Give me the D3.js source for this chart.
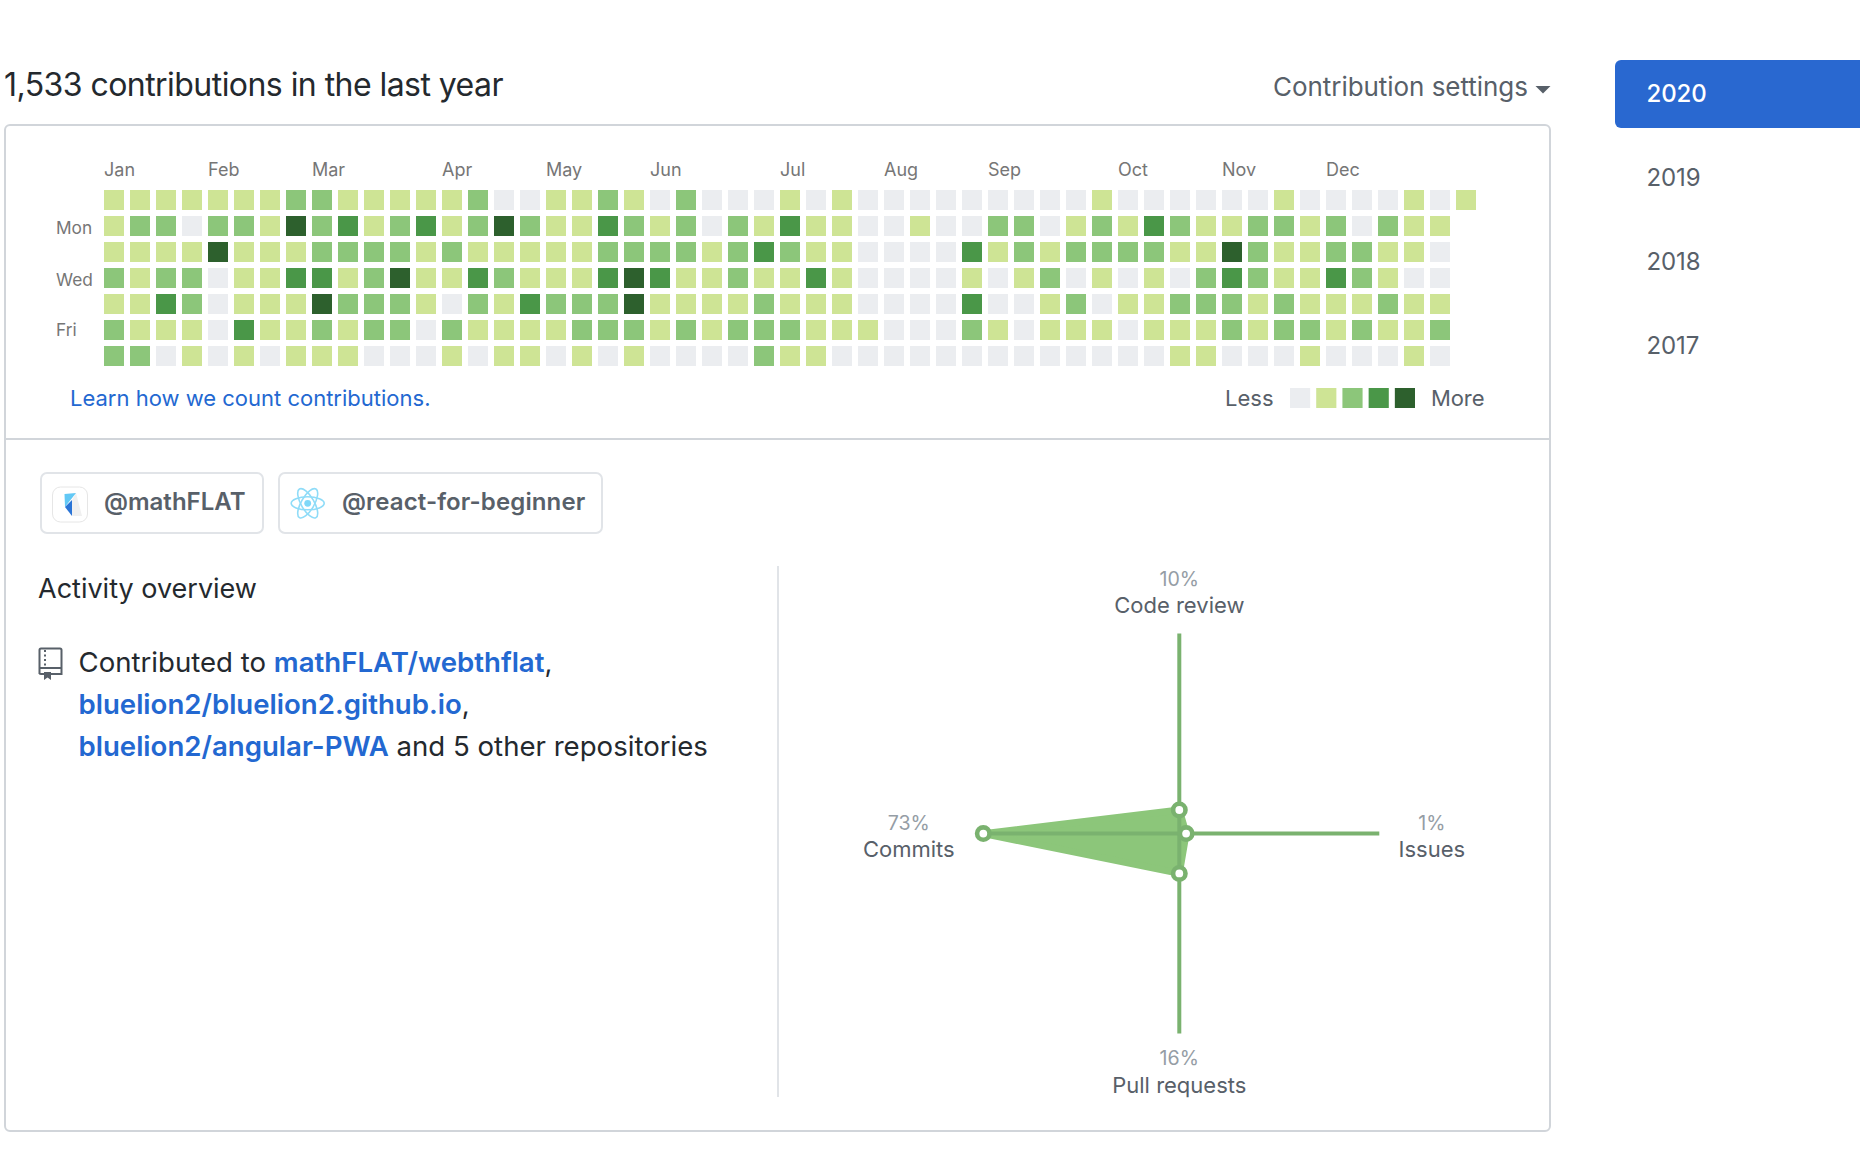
<!DOCTYPE html>
<html>
<head>
<meta charset="utf-8">
<script src="https://d3js.org/d3.v7.min.js"></script>
<style>
  html, body { margin: 0; padding: 0; background: #fff; }
  svg { display: block; }
  text { font-family: Inter, "Noto Sans", sans-serif; }
  .domain { display: none; }
</style>
</head>
<body>
<div id="chart"></div>
<script>
// data
var months = ["Jan", "Feb", "Mar", "Apr", "May", "Jun", "Jul", "Aug", "Sep", "Oct", "Nov", "Dec"];
var monthWeeks = [0, 4, 8, 13, 17, 21, 26, 30, 34, 39, 43, 47];
var dayNames = ["Mon", "Wed", "Fri"];
var dayRows = [1, 3, 5];

// contribution level (0-4) per week, one list for each weekday
var sunLevels = [1,1,1,1,1,1,1,2,2,1,1,1,1,1,2,0,0,1,1,2,1,0,2,0,0,0,1,0,1,0,0,0,0,0,0,0,0,0,1,0,0,0,0,0,0,1,0,0,0,0,1,0,1];
var monLevels = [1,2,2,0,2,2,1,4,2,3,1,2,3,1,2,4,2,1,1,3,2,1,2,0,2,1,3,1,1,0,0,1,0,0,2,2,0,1,2,1,3,2,1,1,2,2,1,2,0,2,1,1];
var tueLevels = [1,1,1,1,4,1,1,1,2,2,2,2,1,2,1,1,1,1,1,2,2,2,2,1,2,3,2,1,1,0,0,0,0,3,1,2,1,2,2,2,2,1,1,4,2,1,1,2,2,1,1,0];
var wedLevels = [2,1,2,2,0,1,1,3,3,1,2,4,1,1,3,2,1,1,1,3,4,3,1,1,2,1,1,3,1,0,0,0,0,1,0,1,2,0,1,0,1,0,2,3,2,1,1,3,2,1,0,0];
var thuLevels = [1,1,3,2,0,1,1,1,4,2,2,2,1,0,2,1,3,2,2,2,4,1,1,1,1,2,1,1,1,0,0,0,0,3,0,0,1,2,0,1,1,2,2,2,1,2,1,1,1,2,1,1];
var friLevels = [2,1,1,1,0,3,1,1,2,1,2,2,0,2,1,1,1,1,2,2,2,1,2,1,2,2,2,1,1,1,0,0,0,2,1,0,1,1,1,0,1,1,1,2,1,2,2,1,2,1,1,2];
var satLevels = [2,2,0,1,0,1,0,1,1,1,0,0,0,1,0,1,1,0,1,0,1,0,0,0,0,2,1,1,0,0,0,0,0,0,0,0,0,0,0,0,0,1,1,0,0,0,1,0,0,0,1,0];
var weekdayLevels = [sunLevels, monLevels, tueLevels, wedLevels, thuLevels, friLevels, satLevels];

var levels = [0, 1, 2, 3, 4];
var levelColors = ["#ebedf0", "#cee495", "#8cc67a", "#4a9748", "#2d602d"];

var years = ["2020", "2019", "2018", "2017"];

var radarLabels = ["Code review", "Issues", "Pull requests", "Commits"];
var radarPercents = [10, 1, 16, 73];
// how far each point sits along its spoke, in % of the spoke
var radarReach = [11.8, 3.4, 19.9, 98];

var svg = d3.select("#chart")
    .append("svg")
    .attr("width", 1860)
    .attr("height", 1174);

var linkBlue = "#2368d1", gray = "#586069", dark = "#24292e", border = "#d1d5da", light = "#e1e4e8";

// header
svg.append("text").attr("x", 4).attr("y", 96)
    .attr("font-size", 32).attr("letter-spacing", -0.55).attr("fill", dark)
    .text("1,533 contributions in the last year");
svg.append("text").attr("x", 1273).attr("y", 96)
    .attr("font-size", 26).attr("letter-spacing", -0.05).attr("fill", gray)
    .text("Contribution settings");
svg.append("path").attr("d", "M1535.5,86 h15 l-7.5,7.5 z").attr("fill", gray);

// card
svg.append("rect").attr("x", 5).attr("y", 125).attr("width", 1545).attr("height", 1006)
    .attr("rx", 5).attr("fill", "#fff").attr("stroke", border).attr("stroke-width", 2);
svg.append("line").attr("x1", 5).attr("x2", 1550).attr("y1", 439).attr("y2", 439)
    .attr("stroke", border).attr("stroke-width", 2);
svg.append("line").attr("x1", 778).attr("x2", 778).attr("y1", 566).attr("y2", 1097)
    .attr("stroke", light).attr("stroke-width", 2);

// year tabs
svg.append("path")
    .attr("d", "M1860,60 H1621 a6,6 0 0 0 -6,6 V122 a6,6 0 0 0 6,6 H1860 Z")
    .attr("fill", "#2968d0");
var yearY = d3.scalePoint().domain(years).range([102, 354]);
svg.append("g").selectAll("text")
    .data(years)
    .enter()
    .append("text")
    .attr("x", 1646.5)
    .attr("y", function (d) { return yearY(d); })
    .attr("font-size", 24)
    .attr("letter-spacing", -0.1)
    .attr("font-weight", function (d, i) { return i == 0 ? 500 : 400; })
    .attr("fill", function (d, i) { return i == 0 ? "#fff" : gray; })
    .text(function (d) { return d; });

// calendar
var x = d3.scaleBand().domain(d3.range(53)).range([104, 1476]).paddingInner(6 / 26);
var y = d3.scaleBand().domain(d3.range(7)).range([190, 366]).paddingInner(6 / 26);
var color = d3.scaleOrdinal().domain(levels).range(levelColors);

svg.append("g")
    .selectAll("g")
    .data(weekdayLevels)
    .enter()
    .append("g")
    .attr("transform", function (d, i) { return "translate(0," + y(i) + ")"; })
    .selectAll("rect")
    .data(function (d) { return d; })
    .enter()
    .append("rect")
    .attr("x", function (d, i) { return x(i); })
    .attr("width", x.bandwidth())
    .attr("height", y.bandwidth())
    .attr("fill", function (d) { return color(d); });

var monthAxis = d3.axisTop(x)
    .tickValues(monthWeeks)
    .tickFormat(function (d, i) { return months[i]; })
    .tickSize(0);
svg.append("g")
    .attr("transform", "translate(0,176)")
    .call(monthAxis)
    .selectAll("text")
    .attr("x", -x.bandwidth() / 2).attr("y", 0).attr("dy", 0)
    .attr("text-anchor", "start")
    .attr("font-family", "Inter")
    .attr("font-size", 18)
    .attr("fill", "#767676");

var dayAxis = d3.axisLeft(y)
    .tickValues(dayRows)
    .tickFormat(function (d, i) { return dayNames[i]; })
    .tickSize(0);
svg.append("g")
    .attr("transform", "translate(56,0)")
    .call(dayAxis)
    .selectAll("text")
    .attr("x", 0)
    .attr("y", function (d) { return d == 5 ? 6 : 8; }) // Fri sits a little higher in the original
    .attr("dy", 0)
    .attr("text-anchor", "start")
    .attr("font-family", "Inter")
    .attr("font-size", 17.3)
    .attr("fill", "#767676");

// learn link and legend
svg.append("text").attr("x", 70).attr("y", 406)
    .attr("font-size", 22).attr("fill", linkBlue)
    .text("Learn how we count contributions.");
svg.append("text").attr("x", 1225).attr("y", 406)
    .attr("font-size", 22).attr("fill", gray).text("Less");
svg.append("text").attr("x", 1431).attr("y", 406)
    .attr("font-size", 22).attr("letter-spacing", -0.1).attr("fill", gray).text("More");

var legendX = d3.scaleBand().domain(levels).range([1290, 1415]).paddingInner(6 / 26);
svg.append("g").selectAll("rect")
    .data(levels)
    .enter()
    .append("rect")
    .attr("x", function (d) { return legendX(d); })
    .attr("y", 388)
    .attr("width", legendX.bandwidth())
    .attr("height", 20)
    .attr("fill", function (d) { return color(d); });

// organisation chips
svg.append("rect").attr("x", 41).attr("y", 473).attr("width", 222).attr("height", 60)
    .attr("rx", 6).attr("fill", "#fff").attr("stroke", light).attr("stroke-width", 2);
svg.append("rect").attr("x", 279).attr("y", 473).attr("width", 323).attr("height", 60)
    .attr("rx", 6).attr("fill", "#fff").attr("stroke", light).attr("stroke-width", 2);
svg.append("text").attr("x", 104).attr("y", 510)
    .attr("font-size", 24).attr("font-weight", 600).attr("fill", gray).text("@mathFLAT");
svg.append("text").attr("x", 342).attr("y", 510)
    .attr("font-size", 24).attr("font-weight", 600).attr("letter-spacing", 0.12).attr("fill", gray).text("@react-for-beginner");

// mathFLAT logo
svg.append("rect").attr("x", 52.5).attr("y", 487).attr("width", 35).attr("height", 35)
    .attr("rx", 8).attr("fill", "#fff").attr("stroke", "#e6e6e6").attr("stroke-width", 1);
svg.append("path").attr("d", "M76,493 L82,516 L72,516 L72,500 Z").attr("fill", "#f0f0f0");
svg.append("path").attr("d", "M64.5,494 L76,493 L65,507 Z").attr("fill", "#62c8f5");
svg.append("path").attr("d", "M65,507 L72,500 L72,516 Z").attr("fill", "#2a74d6");

// react logo
var reactLogo = svg.append("g").attr("transform", "translate(307.7,503.3)");
[0, 60, 120].forEach(function (angle) {
    reactLogo.append("ellipse")
        .attr("rx", 16.5).attr("ry", 6.5)
        .attr("transform", "rotate(" + angle + ")")
        .attr("fill", "none").attr("stroke", "#8fdcf8").attr("stroke-width", 1.6);
});
reactLogo.append("circle").attr("r", 3.4).attr("fill", "#7fd8f8");

// activity overview
svg.append("text").attr("x", 38).attr("y", 597.5)
    .attr("font-size", 27).attr("fill", dark).text("Activity overview");

// repo icon
var repoIcon = svg.append("g").attr("fill", "none").attr("stroke", gray);
repoIcon.append("path").attr("d", "M39.5,674 V650 a1.5,1.5 0 0 1 1.5,-1.5 H60 a1.5,1.5 0 0 1 1.5,1.5 V674 H41 a1.5,1.5 0 0 1 -1.5,-1.5 V668 H61").attr("stroke-width", 2);
repoIcon.append("line").attr("x1", 45).attr("x2", 45).attr("y1", 650).attr("y2", 666)
    .attr("stroke-width", 2).attr("stroke-dasharray", "2,2.5");
svg.append("path").attr("d", "M44,672 h7 v8 l-3.5,-2.5 l-3.5,2.5 z").attr("fill", gray);

var activity = svg.append("g").attr("font-size", 27.6).attr("fill", dark);
var line1 = activity.append("text").attr("x", 78.5).attr("y", 672);
line1.append("tspan").text("Contributed to ");
line1.append("tspan").attr("font-weight", 600).attr("fill", linkBlue).text("mathFLAT/webthflat");
line1.append("tspan").text(",");
var line2 = activity.append("text").attr("x", 78.5).attr("y", 714);
line2.append("tspan").attr("font-weight", 600).attr("fill", linkBlue).text("bluelion2/bluelion2.github.io");
line2.append("tspan").text(",");
var line3 = activity.append("text").attr("x", 78.5).attr("y", 756);
line3.append("tspan").attr("font-weight", 600).attr("fill", linkBlue).text("bluelion2/angular-PWA");
line3.append("tspan").text(" and 5 other repositories");

// radar
var radar = svg.append("g").attr("transform", "translate(1179.3,833.6)");
var angle = d3.scaleLinear().domain([0, radarLabels.length]).range([0, 2 * Math.PI]);
var radius = d3.scaleLinear().domain([0, 100]).range([0, 200]);
var axisColor = "#7ab26f";

var shape = d3.lineRadial()
    .angle(function (d, i) { return angle(i); })
    .radius(function (d) { return radius(d); })
    .curve(d3.curveLinearClosed);
radar.append("path")
    .attr("d", shape(radarReach))
    .attr("fill", "#8cc67a")
    .attr("stroke", "#8cc67a")
    .attr("stroke-width", 7)
    .attr("stroke-linejoin", "round");

radar.append("g").selectAll("line")
    .data(radarLabels)
    .enter()
    .append("line")
    .attr("x2", function (d, i) { return d3.pointRadial(angle(i), radius(100))[0]; })
    .attr("y2", function (d, i) { return d3.pointRadial(angle(i), radius(100))[1]; })
    .attr("stroke", axisColor)
    .attr("stroke-width", 4);

radar.append("g").selectAll("circle")
    .data(radarReach)
    .enter()
    .append("circle")
    .attr("cx", function (d, i) { return d3.pointRadial(angle(i), radius(d))[0]; })
    .attr("cy", function (d, i) { return d3.pointRadial(angle(i), radius(d))[1]; })
    .attr("r", 6.2)
    .attr("fill", "#fff")
    .attr("stroke", axisColor)
    .attr("stroke-width", 4.6);

// label spots around the radar, relative to its centre
var labelSpots = [[0, -248], [252.5, -4], [0, 231.5], [-270.5, -4]];
var radarText = radar.append("g").selectAll("g")
    .data(radarLabels)
    .enter()
    .append("g")
    .attr("transform", function (d, i) { return "translate(" + labelSpots[i] + ")"; })
    .attr("text-anchor", "middle");
radarText.append("text")
    .attr("font-size", 19.6)
    .attr("fill", "#959da5")
    .text(function (d, i) { return radarPercents[i] + "%"; });
radarText.append("text")
    .attr("y", 27.5)
    .attr("font-size", 22)
    .attr("fill", gray)
    .text(function (d) { return d; });
</script>
</body>
</html>
